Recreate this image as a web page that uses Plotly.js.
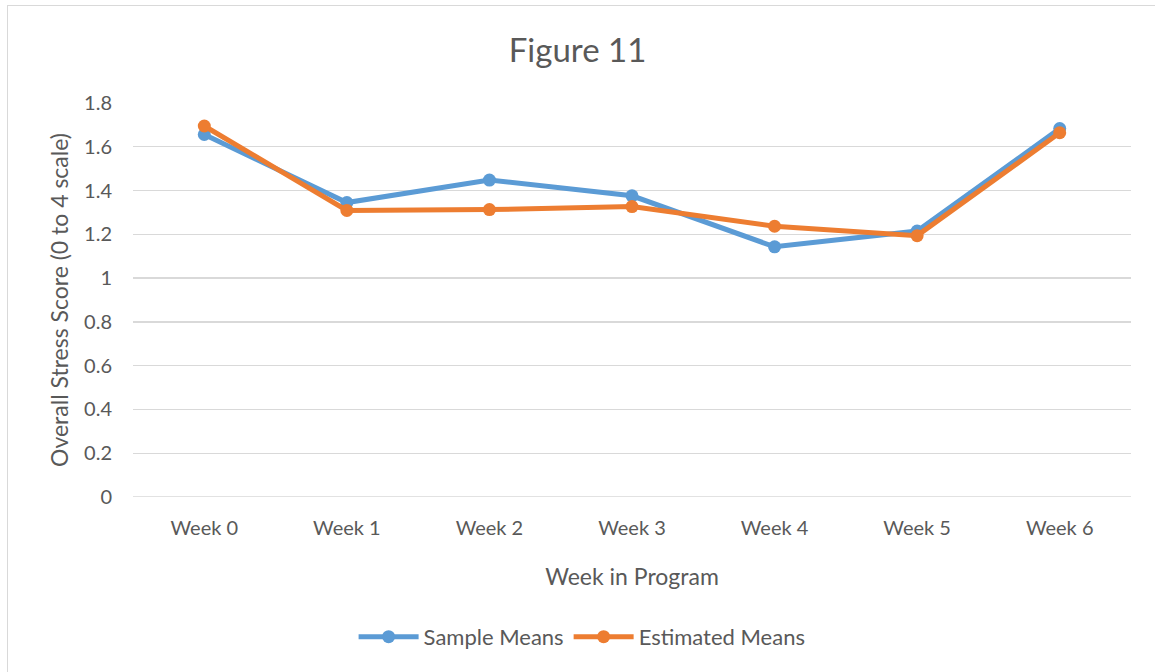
<!DOCTYPE html>
<html>
<head>
<meta charset="utf-8">
<script src="https://cdn.plot.ly/plotly-3.0.1.min.js"></script>
<style>
html,body{margin:0;padding:0;background:#fff;}
#wrap{position:relative;width:1155px;height:672px;overflow:hidden;}
#chart{position:absolute;left:0;top:0;width:1155px;height:672px;}
#frame{position:absolute;left:7px;top:5px;width:1200px;height:700px;border:1px solid #D9D9D9;pointer-events:none;box-sizing:border-box;}
</style>
</head>
<body>
<div id="wrap"><div id="chart"></div><div id="frame"></div></div>
<script>
const weeks = ["Week 0","Week 1","Week 2","Week 3","Week 4","Week 5","Week 6"];
const sampleMeans = [1.656, 1.345, 1.448, 1.376, 1.143, 1.215, 1.683];
const estimatedMeans = [1.695, 1.309, 1.313, 1.327, 1.237, 1.194, 1.664];
const yTickVals = [0, 0.2, 0.4, 0.6, 0.8, 1, 1.2, 1.4, 1.6, 1.8];
const yTickText = ["0","0.2","0.4","0.6","0.8","1","1.2","1.4","1.6","1.8"];

const FONT = "Lato, 'Noto Sans', sans-serif";
const traces = [
  {x: weeks, y: sampleMeans, name: "Sample Means", type: "scatter", mode: "lines+markers",
   line: {color: "#5B9BD5", width: 5}, marker: {color: "#5B9BD5", size: 13}},
  {x: weeks, y: estimatedMeans, name: "Estimated Means", type: "scatter", mode: "lines+markers",
   line: {color: "#ED7D31", width: 5}, marker: {color: "#ED7D31", size: 13}}
];
const layout = {
  width: 1155, height: 672,
  margin: {l: 133, r: 24, t: 103, b: 175},
  paper_bgcolor: "rgba(0,0,0,0)", plot_bgcolor: "#fff",
  font: {family: FONT, color: "#595959", size: 20},
  title: {text: "Figure 11", font: {family: FONT, size: 33, color: "#595959"}, x: 0.5, xanchor: "center", y: 0.925, yanchor: "middle"},
  xaxis: {type: "category", range: [-0.5, 6.5], showgrid: false, zeroline: false, showline: false,
    ticks: "", ticklabelstandoff: 17, tickfont: {size: 20, color: "#595959"},
    title: {text: "Week in Program", font: {size: 23, color: "#595959"}, standoff: 30}},
  yaxis: {range: [0, 1.8], tickvals: yTickVals, ticktext: yTickText, showgrid: true, gridcolor: "#D9D9D9", gridwidth: 1.3,
    zeroline: false, showline: false, ticks: "", ticklabelstandoff: 20, tickfont: {size: 20, color: "#595959"},
    title: {text: "Overall Stress Score (0 to 4 scale)", font: {size: 23, color: "#595959"}, standoff: 9}},
  shapes: [{type: "line", xref: "paper", yref: "y", x0: 0, x1: 1, y0: 0, y1: 0, line: {color: "#D9D9D9", width: 1.3}, layer: "below"}],
  legend: {orientation: "h", x: 0.45, xanchor: "center", y: -0.355, yanchor: "middle", font: {size: 22, color: "#595959"}, itemwidth: 60},
  showlegend: true
};
Plotly.newPlot("chart", traces, layout, {staticPlot: true, displayModeBar: false});
</script>
</body>
</html>
